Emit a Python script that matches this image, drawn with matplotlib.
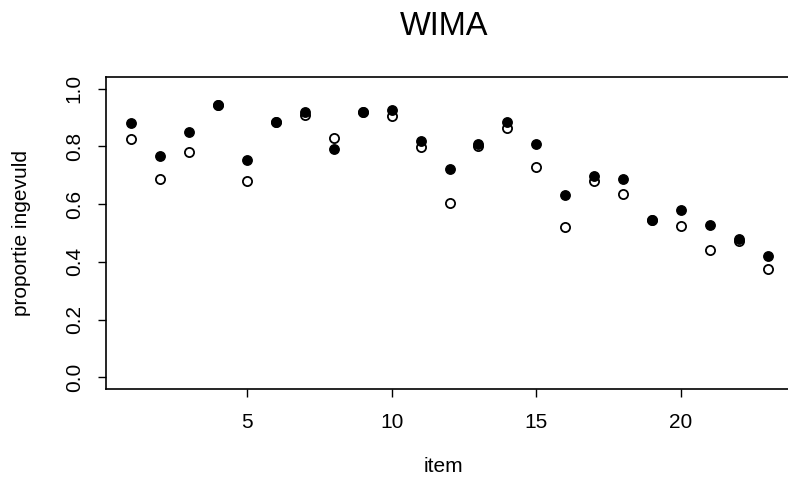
import matplotlib
matplotlib.use("Agg")
import matplotlib.pyplot as plt

plt.rcParams['font.family'] = ['Liberation Sans', 'DejaVu Sans']

items = list(range(1, 24))
# proportion filled in, first group (filled dots)
filled = [0.882, 0.767, 0.850, 0.943, 0.752, 0.883, 0.919, 0.790, 0.918, 0.925,
          0.817, 0.721, 0.809, 0.883, 0.808, 0.632, 0.699, 0.688, 0.545, 0.581,
          0.528, 0.479, 0.421]
# proportion filled in, second group (open circles)
open_ = [0.824, 0.687, 0.779, 0.943, 0.681, 0.883, 0.907, 0.829, 0.918, 0.906,
         0.796, 0.603, 0.802, 0.863, 0.727, 0.520, 0.680, 0.635, 0.545, 0.525,
         0.440, 0.473, 0.377]
yticks = [0.0, 0.2, 0.4, 0.6, 0.8, 1.0]
xticks = [5, 10, 15, 20]

W, H = 788, 482
fig = plt.figure(figsize=(W / 100, H / 100), dpi=100)
left, right, bottom, top = 106, 793, 389, 77
ax = fig.add_axes([left / W, 1 - bottom / H, (right - left) / W, (bottom - top) / H])

ax.plot(items, open_, linestyle='none', marker='o', markersize=6.6,
        markerfacecolor='white', markeredgecolor='black', markeredgewidth=1.3)
ax.plot(items, filled, linestyle='none', marker='o', markersize=6.8,
        markerfacecolor='black', markeredgecolor='black')

ax.set_xlim(0.12, 23.88)
ax.set_ylim(-0.04, 1.04)
ax.set_xticks(xticks)
ax.set_yticks(yticks)
ax.set_xticklabels([str(t) for t in xticks])
ax.set_yticklabels([f"{t:.1f}" for t in yticks], rotation=90, va='center')
ax.tick_params(axis='both', direction='out', length=6, width=1, labelsize=15)
ax.tick_params(axis='x', pad=11)
ax.tick_params(axis='y', pad=10)
for s in ax.spines.values():
    s.set_linewidth(1.2)

fig.text(444 / W, 1 - 35 / H, "WIMA", ha='center', va='baseline', fontsize=23.5)
fig.text(443 / W, 1 - 466 / H, "item", ha='center', va='center', fontsize=15)
fig.text(22 / W, 1 - 233 / H, "proportie ingevuld", ha='center', va='center',
         rotation=90, fontsize=15)

fig.savefig("out.png", dpi=100)
